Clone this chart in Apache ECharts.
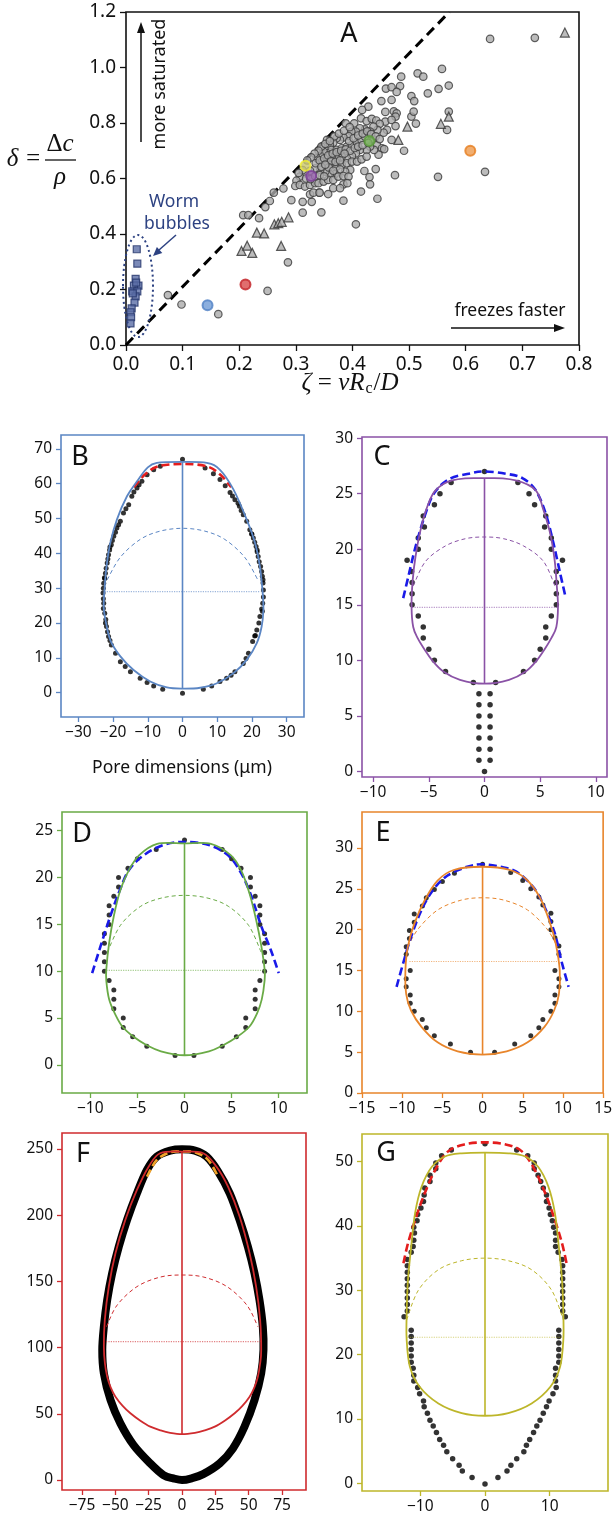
<!DOCTYPE html>
<html>
<head>
<meta charset="utf-8">
<script src="https://cdn.jsdelivr.net/npm/echarts@6/dist/echarts.min.js"></script>
<style>
  html, body { margin: 0; padding: 0; background: #fff; }
  #main { width: 615px; height: 1518px; }
</style>
</head>
<body>
<div id="main"></div>
<script>
// ---------- panel A : delta vs zeta ----------
var aXTicks = [0, 0.1, 0.2, 0.3, 0.4, 0.5, 0.6, 0.7, 0.8];
var aYTicks = [0, 0.2, 0.4, 0.6, 0.8, 1.0, 1.2];
var aDiagonal = [[0, 0], [0.571, 1.2]];
var aCircles = [
  [0.643,1.103],[0.722,1.107],[0.074,0.180],[0.098,0.146],[0.163,0.111],[0.250,0.195],[0.286,0.298],
  [0.207,0.468],[0.216,0.468],[0.235,0.457],[0.246,0.497],[0.254,0.519],[0.261,0.549],[0.278,0.564],
  [0.292,0.522],[0.312,0.477],[0.312,0.516],[0.328,0.516],[0.341,0.549],[0.345,0.478],[0.384,0.520],
  [0.406,0.435],[0.444,0.527],[0.475,0.612],[0.551,0.606],[0.634,0.624],
  [0.486,0.967],[0.515,0.979],[0.525,0.967],[0.558,0.995],[0.570,0.935],[0.552,0.923],[0.533,0.907],
  [0.459,0.924],[0.469,0.929],[0.484,0.933],[0.478,0.912],[0.504,0.897],[0.509,0.879],[0.469,0.883],
  [0.451,0.879],[0.428,0.859],[0.417,0.847],[0.458,0.840],[0.473,0.842],[0.478,0.835],[0.476,0.823],
  [0.504,0.823],[0.508,0.841],[0.512,0.798],[0.570,0.841],[0.567,0.775],[0.458,0.805],[0.469,0.811],
  [0.476,0.789],[0.388,0.799],[0.403,0.799],[0.415,0.817],[0.425,0.807],[0.434,0.815],[0.442,0.809],
  [0.448,0.797],[0.461,0.775],[0.455,0.765],[0.444,0.775],[0.437,0.787],[0.431,0.769],[0.422,0.777],
  [0.413,0.781],[0.406,0.769],[0.398,0.769],[0.393,0.753],[0.384,0.748],[0.378,0.739],[0.372,0.745],
  [0.366,0.729],[0.360,0.721],[0.355,0.739],[0.363,0.703],[0.372,0.703],[0.381,0.709],[0.390,0.715],
  [0.399,0.721],[0.408,0.729],[0.416,0.739],[0.422,0.751],[0.437,0.741],[0.443,0.721],[0.452,0.709],
  [0.456,0.706],[0.446,0.686],[0.438,0.703],[0.431,0.715],[0.425,0.703],[0.413,0.703],[0.406,0.691],
  [0.399,0.681],[0.390,0.673],[0.381,0.679],[0.372,0.673],[0.363,0.676],[0.355,0.691],[0.349,0.697],
  [0.343,0.681],[0.337,0.673],[0.346,0.661],[0.355,0.655],[0.363,0.649],[0.372,0.643],[0.381,0.649],
  [0.390,0.655],[0.399,0.661],[0.408,0.661],[0.416,0.669],[0.425,0.679],[0.396,0.631],[0.387,0.625],
  [0.378,0.633],[0.369,0.616],[0.360,0.616],[0.352,0.625],[0.343,0.631],[0.334,0.637],[0.325,0.628],
  [0.316,0.619],[0.307,0.607],[0.301,0.592],[0.299,0.573],[0.307,0.577],[0.316,0.571],[0.325,0.577],
  [0.334,0.583],[0.340,0.583],[0.349,0.589],[0.357,0.595],[0.366,0.595],[0.375,0.607],[0.384,0.609],
  [0.393,0.607],[0.384,0.579],[0.391,0.583],[0.421,0.627],[0.430,0.605],[0.431,0.579],[0.441,0.634],
  [0.415,0.553],[0.325,0.543],[0.331,0.549],[0.342,0.549],[0.357,0.544],[0.366,0.565],[0.378,0.565],
  [0.491,0.700],[0.469,0.739],[0.345,0.715],[0.352,0.725],[0.368,0.752],[0.376,0.762],[0.385,0.772],
  [0.395,0.785],[0.340,0.700],[0.333,0.690],[0.327,0.676],[0.320,0.665],[0.360,0.735],
  [0.335,0.655],[0.342,0.665],[0.350,0.672],[0.357,0.683],[0.365,0.690],[0.372,0.695],[0.380,0.700],
  [0.388,0.705],[0.396,0.700],[0.404,0.710],[0.410,0.715],[0.418,0.720],[0.428,0.728],[0.362,0.662],
  [0.370,0.660],[0.378,0.665],[0.386,0.690],[0.394,0.735],[0.402,0.745],[0.410,0.755],[0.418,0.762],
  [0.426,0.770],[0.433,0.760],[0.441,0.752],[0.448,0.742],[0.318,0.600],[0.326,0.598],[0.334,0.608],
  [0.342,0.612],[0.350,0.608],[0.358,0.640],[0.366,0.628],[0.312,0.630],[0.305,0.620],[0.345,0.642],
  [0.352,0.650]
];
var aTriangles = [
  [0.775,1.126],[0.570,0.823],[0.556,0.797],[0.497,0.787],[0.481,0.739],[0.204,0.339],[0.214,0.358],
  [0.223,0.332],[0.231,0.405],[0.244,0.402],[0.262,0.435],[0.269,0.439],[0.275,0.444],[0.287,0.460],
  [0.274,0.357]
];
var aWorm = [
  [0.019,0.345],[0.020,0.293],[0.017,0.238],[0.022,0.214],[0.014,0.214],[0.011,0.193],[0.020,0.193],
  [0.017,0.175],[0.015,0.153],[0.010,0.132],[0.008,0.118],[0.009,0.100],[0.008,0.078],[0.012,0.186],
  [0.018,0.225]
];
var aBlue = [[0.144, 0.143]];
var aRed = [[0.211, 0.218]];
var aYellow = [[0.317, 0.646]];
var aPurple = [[0.327, 0.609]];
var aGreen = [[0.430, 0.735]];
var aOrange = [[0.608, 0.700]];

// ---------- panel B ----------
var bXTicks = [-30, -20, -10, 0, 10, 20, 30];
var bYTicks = [0, 10, 20, 30, 40, 50, 60, 70];
var bDots = [
  [0,67.0],[-6.4,65],[-8.3,64],[-10.2,62.6],[-11.7,60.7],[-13.1,58.8],[-14.6,56.4],[-15.5,54],[-17,51.6],
  [-17.9,49.2],[-18.9,47.3],[-19.8,44.9],[-20.5,42.5],[-21.3,39.6],[-21.7,37.2],[-22.2,34.3],[-22.7,31.4],
  [-22.9,28.6],[-22.7,25.7],[-22.4,22.8],[-21.9,19],[-21.3,16.1],[-20.5,13.7],[-19.3,11.3],[-17.9,8.9],
  [-15,6],[-12.2,4.1],[-10.2,2.9],[-8.3,1.9],[-5.7,1.0],[0,-0.2],[6,1],[8.4,1.9],[10.8,3.2],[12.7,4.1],
  [15.1,6],[17.5,8.4],[19,11.3],[20.2,14.7],[21.4,18],[22.3,21.9],[23.1,25.7],[23.3,29.5],[23,33.4],
  [22.5,36.2],[21.8,39.1],[21.2,42],[20.4,44.4],[19.4,46.8],[18.5,49.2],[17.5,51.1],[16.4,53.5],
  [15.1,55.4],[13.7,57.5],[12.3,59.4],[10.8,61.2],[8.9,62.9],[6.5,64.5],
  [-16.3,52.8],[-18.4,48.2],[-21,41],[-22.5,33],[-22.8,27],[-22.1,21],[-20.9,15],[-16.5,7.5],
  [16.9,52.3],[19.9,45.6],[21.5,40.5],[23.2,31.5],[22.8,24],[20.8,16.3],[18.3,9.8],[14,5],
  [-19.3,46.1],[-20.2,43.7],[-20.9,41.8],[-21.5,38.4],[-22,35.7],[-22.4,32.8],[-22.8,30],[-22.8,24.2],
  [-22.2,20],[-21.6,17.5],[20,45.5],[20.8,43.2],[21.5,41],[22.1,37.6],[22.8,34.8],[23.2,32.4],
  [23.3,27.5],[23,23.4],[22,20],[21,16.4],[-14,57.6],[-12.5,59.7],[14.4,56.5],[16,54.4]
];
var bOutline = [
  [0,66.3],[-7.4,66],[-10.2,64.5],[-13.1,60.7],[-16,56.4],[-18.9,49.7],[-20.8,43],[-21.9,36.2],
  [-22.4,30.5],[-22.7,24.7],[-22.2,20.9],[-20.8,15.1],[-17.9,10.4],[-14.1,6.5],[-9.3,3.2],[-4.5,1.5],
  [0,1.15],[5.1,1.4],[9.9,2.7],[14.7,5.6],[18.5,9.4],[21.4,14.2],[22.8,19],[23.3,23.8],[23.1,28.6],
  [22.3,36.2],[20.9,43],[18.5,49.7],[14.7,58.3],[10.8,64],[7,66],[0,66.3]
];
var bFit = [[-14,59],[-11,62.5],[-7,65],[0,65.7],[7,65],[11,62.5],[14,59]];
var bArc = [[-21.7,32.4],[-17.9,38.9],[-12.2,44.0],[-6.4,46.4],[0,47.2],[6.4,46.4],[12.2,44.0],[17.9,38.9],[21.7,32.4]];
var bDiam = [[-22.5,29],[22.5,29]];
var bStem = [[0,1.2],[0,66.3]];

// ---------- panel C ----------
var cXTicks = [-10, -5, 0, 5, 10];
var cYTicks = [0, 5, 10, 15, 20, 25, 30];
var cDots = [
  [0,27],[-3,26],[-4,25],[-4.5,24],[-5.5,23],[-5.4,22],[-5.95,21],[-5.95,20],[-6.95,19],[-6.55,18],
  [-6.5,17],[-6.5,16],[-6.5,15],[-5.95,14],[-5.5,13],[-5.5,12],[-5,11],[-4.5,10],[-3.5,9],[-1,8],[1,8],
  [3,26],[4,25],[4.5,24],[5.5,23],[5.4,22],[6,21],[6,20],[7,19],[6.45,18],[6.45,17],[6.45,16],[6.45,15],
  [6,14],[5.5,13],[5.5,12],[5,11],[4.5,10],[3.5,9],
  [-0.5,7],[0.5,7],[-0.5,6],[0.5,6],[-0.5,5],[0.5,5],[-0.5,4],[0.5,4],[-0.5,3],[0.5,3],[-0.5,2],[0.5,2],
  [-0.5,1],[0.5,1],[0,0]
];
var cOutline = [
  [0,26.42],[-2.9,26.2],[-4.4,25.3],[-5.15,23.8],[-5.75,21.7],[-6.2,19.3],[-6.45,17.2],[-6.55,14.8],
  [-6.4,13],[-6.0,12],[-5.4,11],[-4.7,10],[-3.7,9],[-2.2,8.25],[0,7.9],[2.2,8.25],[3.7,9],[4.7,10],
  [5.4,11],[6.0,12],[6.45,13],[6.6,14.8],[6.5,16.6],[6.3,19],[5.9,21.4],[5.3,23.5],[4.6,25.3],[2.8,26.2],[0,26.42]
];
var cFit = [
  [-7.3,15.6],[-6.8,17.7],[-6.2,20.2],[-5.4,22.9],[-4.55,25],[-3.2,26.3],[-1.4,26.8],[0,27.0],[1.9,26.8],
  [3.4,26.4],[4.6,25.3],[5.5,23.2],[6.2,20.5],[6.8,17.8],[7.3,15.6]
];
var cArc = [[-6.4,16.7],[-5.3,18.9],[-3.5,20.3],[-1.7,20.95],[0,21.1],[1.7,20.95],[3.5,20.3],[5.3,18.9],[6.4,16.5]];
var cDiam = [[-6.5,14.76],[6.5,14.76]];
var cStem = [[0,7.9],[0,26.42]];

// ---------- panel D ----------
var dXTicks = [-10, -5, 0, 5, 10];
var dYTicks = [0, 5, 10, 15, 20, 25];
var dDots = [
  [0,24],[-3,23],[-5,22],[-6,21],[-7,20],[-7,19],[-7.5,18],[-8,17],[-8,16],[-8,15],[-8.5,14],[-8.5,13],
  [-8.5,12],[-8.5,11],[-8.5,10],[-8,9],[-7.5,8],[-7.5,7],[-7.5,6],[-6.5,5],[-6.5,4],[-5.5,3],[-4,2],
  [-1,1],[1,1],[4,2],[5.5,3],[6.5,4],[6.5,5],[7.5,6],[7.5,7],[7.5,8],[8,9],[8.5,10],[8.5,11],[8.5,12],
  [8.5,13],[8.5,14],[8,15],[8,16],[8,17],[7.5,18],[7,19],[7,20],[6,21],[5,22],[4,23]
];
var dOutline = [
  [0,23.65],[-2.9,23.6],[-4.8,22.4],[-5.9,20.8],[-6.8,18.7],[-7.5,15.9],[-8.0,13],[-8.3,10.2],[-8.3,9],
  [-8.0,7],[-7.4,5.5],[-6.6,4.1],[-5.4,3.0],[-4,2.1],[-2.5,1.45],[0,1.03],[2.6,1.45],[4.1,2.1],[5.6,3],
  [6.9,4.1],[7.7,5.5],[8.2,7],[8.5,9],[8.5,10.2],[8.15,12.7],[7.6,15.5],[6.9,18.3],[6,20.8],[4.9,22.4],
  [2.8,23.6],[0,23.65]
];
var dFit = [
  [-9.8,9.8],[-8.9,12.7],[-8,15.5],[-7,18.3],[-5.9,20.8],[-4.3,22.4],[-2.2,23.5],[0,23.8],[2.5,23.5],
  [4.6,22.4],[6,20.5],[7.1,18],[8.15,14.8],[9.15,12.3],[10,9.8]
];
var dArc = [[-8.2,12],[-6.8,14.9],[-4.7,16.9],[-2.5,17.8],[0,18.1],[2.5,17.8],[4.7,16.9],[6.8,14.9],[8.15,12]];
var dDiam = [[-8.3,10.1],[8.4,10.1]];
var dStem = [[0,1.05],[0,23.65]];

// ---------- panel E ----------
var eXTicks = [-15, -10, -5, 0, 5, 10, 15];
var eYTicks = [0, 5, 10, 15, 20, 25, 30];
var eDots = [
  [0,28],[-3.5,26.9],[-5,25.9],[-6,24.9],[-7,23.9],[-7.5,22.9],[-8.5,21.9],[-8.5,20.9],[-9.1,19.9],
  [-9.1,18.9],[-9.5,17.9],[-9.5,17],[-9,15],[-9.5,14],[-9.5,13],[-9,12],[-9,11],[-8.5,10],[-7.5,9],
  [-7,8],[-6,7],[-4,6],[-1.5,5],[1.5,5],[4,6],[6,7],[7,8],[7.5,9],[8.5,10],[9,11],[9,12],[9.5,13],
  [9.5,14],[9,15],[9.5,17],[9.5,18],[9,19],[8.5,20],[8.5,21],[8.5,22],[7.5,23],[7,24],[6,25],[5,26],[3.5,27]
];
var eOutline = [
  [0,27.7],[-3.6,27.3],[-5.6,26],[-7.2,23.6],[-8.5,20.7],[-9.3,17.9],[-9.6,15],[-9.5,12.1],[-8.9,10.1],
  [-7.6,8.1],[-5.6,6.2],[-3.1,5.1],[0,4.7],[3,5.1],[5.6,6.2],[7.7,8.1],[8.9,10.1],[9.5,12.1],[9.6,15],
  [9.1,18.3],[8.3,21.1],[7.1,24],[5.4,26.2],[3.4,27.3],[0,27.7]
];
var eFit = [
  [-10.7,13],[-9.9,15.8],[-8.9,19.1],[-7.6,22.4],[-6.2,24.8],[-4.4,26.6],[-1.9,27.7],[0,28],[2.2,27.7],
  [4.2,27.1],[6.3,25.2],[7.7,22.8],[9,19.5],[9.8,16.2],[10.7,13]
];
var eArc = [[-9.3,17.9],[-8,20.1],[-5.6,22.4],[-2.7,23.6],[0,23.9],[2.7,23.6],[5.6,22.4],[8,20.1],[9.3,17.9]];
var eDiam = [[-9.1,16.1],[9.4,16.1]];
var eStem = [[0,4.7],[0,27.7]];

// ---------- panel F ----------
var fXTicks = [-75, -50, -25, 0, 25, 50, 75];
var fYTicks = [0, 50, 100, 150, 200, 250];
var fBand = [
  [0,249.7],[-8.9,248.7],[-18.9,244.2],[-26.3,234.1],[-33.8,216.5],[-41.2,196.4],[-47.4,176.2],
  [-52.4,156.1],[-56.1,136],[-58.6,115.8],[-59.8,98.2],[-58.6,80.6],[-53.6,60.4],[-46.2,42.8],
  [-36.3,26.4],[-23.8,12.6],[-13.9,3.8],[-6.5,1.3],[0,0],[7.2,1.3],[15.9,4.5],[28.3,12.6],[38.2,23.9],
  [46.9,40.3],[54.4,60.4],[59.4,80.6],[61.1,98.2],[60.6,115.8],[58.1,136],[54.4,156.1],[49.4,176.2],
  [43.2,196.4],[35.8,216.5],[27.1,232.9],[18.4,244.2],[9.7,248.7],[0,249.7]
];
var fDots = [[-13,2.5],[-6.5,1.3],[0,0],[6.5,1.3],[13,2.5],[-8,249],[8,249]];
var fOutline = [
  [0,248],[-16.4,246.7],[-25,236.6],[-33.8,219],[-42.5,196.4],[-49.9,171.2],[-54.9,146],[-57.9,120.8],
  [-58.6,100.7],[-57.8,88],[-56.1,78],[-53.5,70],[-49.9,62.9],[-44.5,56],[-38.7,50.4],[-31.5,45],
  [-23.8,40.3],[-16,37.5],[-8.9,35.7],[0,34.7],[9.7,35.7],[17,37.5],[24.6,40.3],[32.3,45],[39.5,50.4],
  [45.3,56],[50.7,62.9],[54.3,70],[56.9,78],[58.6,88],[59.4,98.2],[58.6,120.8],[55.6,146],[50.7,171.2],
  [43.2,198.9],[34.5,221.5],[25.8,236.6],[15.9,246.7],[0,248]
];
var fFit = [[-26.3,229],[-18.9,241.7],[-8.9,247.5],[0,248],[9.7,247.5],[19.6,241.7],[27.1,229]];
var fArc = [[-56.6,115.8],[-48.7,132],[-33.8,146],[-16.4,153.2],[0,154.8],[16.4,153.2],[33.8,146],[48.7,132],[56.9,115.8]];
var fDiam = [[-57,104.5],[59,104.5]];
var fStem = [[0,34.7],[0,248]];

// ---------- panel G ----------
var gXTicks = [-10, 0, 10];
var gYTicks = [0, 10, 20, 30, 40, 50];
var gDots = [
  [0,52.8],[-5.2,51.8],[-6.7,50.9],[-7.6,49.8],[-7.6,48.9],[-8.5,47.9],[-8.5,46.9],[-9.3,45.9],[-9.4,44.8],
  [-9.5,43.8],[-9.9,42.8],[-10.4,41.8],[-10.5,40.8],[-11,39.8],[-10.9,38.9],[-11,37.8],[-11.1,36.8],
  [-11.4,35.9],[-12,34.8],[-12,33.8],[-12,32.8],[-12,31.8],[-12,30.8],[-12,29.8],[-12,28.8],[-12,27.8],
  [-12,26.8],[-12.5,25.9],[-11.4,23.8],[-11.4,22.8],[-11.4,21.8],[-11.4,20.8],[-11.4,19.8],[-11.4,18.8],
  [-11.1,17.9],[-11,16.8],[-11,15.9],[-10.4,14.9],[-10.1,13.9],[-9.5,12.8],[-9.4,11.9],[-8.9,10.9],
  [-8.5,9.8],[-8,8.9],[-7.5,7.9],[-7,6.8],[-6.4,5.9],[-5.9,4.9],[-5,3.8],[-4,2.8],[-3.5,1.9],[-2,0.9],
  [0,-0.1],[2,0.9],[3.4,1.9],[4,2.8],[4.9,3.8],[6,4.9],[6.4,5.9],[6.9,6.8],[7.5,7.9],[8,8.9],[8.5,9.8],
  [9,10.9],[9.5,11.9],[9.9,12.8],[10.5,13.9],[11,14.9],[10.9,15.9],[10.9,16.8],[10.9,17.9],[11.4,18.8],
  [11.4,19.8],[11.4,20.8],[11.4,21.8],[11.4,22.8],[11.4,23.8],[12.4,25.9],[12,26.8],[12,27.8],[12,28.8],
  [12,29.8],[12,30.8],[12,31.8],[12,32.8],[12,33.8],[11.9,34.8],[11.3,35.9],[10.9,36.8],[10.9,37.8],
  [10.9,38.9],[10.6,39.8],[10.4,40.8],[10.1,41.8],[9.9,42.8],[9.5,43.8],[9.5,44.8],[9,45.9],[8.6,46.9],
  [8.2,47.9],[7.6,48.9],[7.6,49.8],[6.6,50.9],[4.9,51.8]
];
var gOutline = [
  [0,51.4],[-3.6,51.3],[-6.2,50.8],[-8.2,49.2],[-9.8,46.1],[-10.8,42],[-11.4,36.8],[-11.9,31.6],[-12.1,26.4],
  [-12.1,22.3],[-11.6,18.1],[-10.1,15],[-7.2,12.4],[-3.6,10.9],[0,10.5],[3.6,10.9],[7.2,12.4],[10.1,15],
  [11.6,18.1],[12.1,22.3],[12.1,26.4],[11.9,31.6],[11.4,36.8],[10.8,42],[9.8,46.1],[8.2,49.2],[6.2,50.8],
  [3.6,51.3],[0,51.4]
];
var gFit = [
  [-12.6,34.2],[-11.9,37.3],[-10.8,40.9],[-9.5,44.6],[-7.7,48.7],[-5.7,51.6],[-3.1,52.7],[0,53],[3.1,52.7],
  [5.7,51.6],[7.7,48.7],[9.5,44.6],[10.8,40.9],[11.9,37.3],[12.6,34.2]
];
var gArc = [[-12.1,25.4],[-10.3,30],[-7.2,33.2],[-3.6,34.6],[0,35],[3.6,34.6],[7.2,33.2],[10.3,30],[12.1,25.4]];
var gDiam = [[-12,22.7],[12,22.7]];
var gStem = [[0,10.5],[0,51.4]];

// ---------- layout ----------
var FONT = 'Noto Sans';
var panels = [
  {grid: {left: 126, top: 12, width: 453, height: 333}, color: '#111', x: [0, 0.8], y: [0, 1.2], xt: aXTicks, yt: aYTicks, fs: 19, dec: 1},
  {grid: {left: 61, top: 435, width: 243, height: 282}, color: '#5b86c4', x: [-35, 35], y: [-7, 74], xt: bXTicks, yt: bYTicks, fs: 15.5},
  {grid: {left: 362, top: 437, width: 245, height: 340}, color: '#8a52a6', x: [-11, 11], y: [-0.5, 30.1], xt: cXTicks, yt: cYTicks, fs: 15.5},
  {grid: {left: 62, top: 812, width: 245, height: 281}, color: '#6aab46', x: [-13, 13], y: [-3, 27], xt: dXTicks, yt: dYTicks, fs: 15.5},
  {grid: {left: 362, top: 812, width: 245, height: 281}, color: '#e8852b', x: [-15, 15], y: [0, 34.4], xt: eXTicks, yt: eYTicks, fs: 15.5},
  {grid: {left: 62, top: 1133, width: 244, height: 357}, color: '#cf2b2e', x: [-90, 93], y: [-7.5, 262], xt: fXTicks, yt: fYTicks, fs: 15.5},
  {grid: {left: 362, top: 1134, width: 246, height: 357}, color: '#bdb62a', x: [-19, 19], y: [-1.2, 54.3], xt: gXTicks, yt: gYTicks, fs: 15.5}
];

function fmt(dec) {
  return function (v) {
    var s = dec ? Number(v).toFixed(dec) : String(Math.round(v));
    return s.replace('-', '\u2212');
  };
}

var grids = [], xAxes = [], yAxes = [];
panels.forEach(function (p, i) {
  grids.push(Object.assign({show: true, borderColor: p.color, borderWidth: 1.6, containLabel: false}, p.grid));
  var common = {
    gridIndex: i, type: 'value', splitLine: {show: false},
    axisLine: {show: false, onZero: false},
    axisTick: {show: true, length: i === 0 ? 6 : 5, lineStyle: {color: p.color, width: 1.3}},
    axisLabel: {color: '#111', fontSize: p.fs, fontFamily: FONT, formatter: fmt(p.dec)}
  };
  xAxes.push(echarts.util.merge({
    min: p.x[0], max: p.x[1],
    axisTick: {customValues: p.xt},
    axisLabel: {customValues: p.xt, margin: i === 0 ? 10 : 8}
  }, common, true));
  yAxes.push(echarts.util.merge({
    min: p.y[0], max: p.y[1],
    axisTick: {customValues: p.yt},
    axisLabel: {customValues: p.yt, margin: i === 0 ? 10 : 9}
  }, common, true));
});

// smooth curve through the read points, drawn in pixel space (Catmull-Rom as bezier)
function smoothPath(px, closed) {
  var pts = px.slice();
  if (closed) pts.pop();
  var n = pts.length;
  function get(i) {
    if (closed) return pts[(i + n) % n];
    return pts[Math.max(0, Math.min(n - 1, i))];
  }
  var d = 'M' + pts[0][0] + ' ' + pts[0][1];
  var last = closed ? n : n - 1;
  for (var i = 0; i < last; i++) {
    var p0 = get(i - 1), p1 = get(i), p2 = get(i + 1), p3 = get(i + 2);
    var c1x = p1[0] + (p2[0] - p0[0]) / 6, c1y = p1[1] + (p2[1] - p0[1]) / 6;
    var c2x = p2[0] - (p3[0] - p1[0]) / 6, c2y = p2[1] - (p3[1] - p1[1]) / 6;
    d += 'C' + c1x + ' ' + c1y + ' ' + c2x + ' ' + c2y + ' ' + p2[0] + ' ' + p2[1];
  }
  if (closed) d += 'Z';
  return d;
}
function curve(gi, data, color, width, dash, z, opacity) {
  var first = data[0], lastP = data[data.length - 1];
  var closed = first[0] === lastP[0] && first[1] === lastP[1];
  return {
    type: 'custom', xAxisIndex: gi, yAxisIndex: gi, data: data, z: z || 3, silent: true,
    renderItem: function (params, api) {
      if (params.dataIndex !== 0) return null;
      var px = data.map(function (p) { return api.coord(p); });
      return {
        type: 'path',
        shape: {pathData: smoothPath(px, closed)},
        style: {fill: 'none', stroke: color, lineWidth: width, lineDash: dash || null,
                opacity: opacity == null ? 1 : opacity, lineJoin: 'round'}
      };
    }
  };
}
function line(gi, data, color, width, type, z, opacity) {
  return {
    type: 'line', xAxisIndex: gi, yAxisIndex: gi, data: data, symbol: 'none', z: z || 3, silent: true,
    lineStyle: {color: color, width: width, type: type || 'solid', opacity: opacity == null ? 1 : opacity}
  };
}
function dots(gi, data, size, z) {
  return {
    type: 'scatter', xAxisIndex: gi, yAxisIndex: gi, data: data, symbolSize: size, z: z || 4,
    itemStyle: {color: '#000'}, silent: true
  };
}
function hl(data, fill, border) {
  return {
    type: 'scatter', xAxisIndex: 0, yAxisIndex: 0, data: data, symbolSize: 10, z: 6,
    itemStyle: {color: fill, borderColor: border, borderWidth: 2}, silent: true
  };
}

var series = [
  line(0, aDiagonal, '#000', 3, [10, 6], 2),
  {type: 'scatter', xAxisIndex: 0, yAxisIndex: 0, data: aCircles, symbolSize: 7.5, z: 4,
   itemStyle: {color: '#ababab', borderColor: '#3a3a3a', borderWidth: 1.2}},
  {type: 'scatter', xAxisIndex: 0, yAxisIndex: 0, data: aTriangles, symbol: 'triangle', symbolSize: 9, z: 4,
   itemStyle: {color: '#ababab', borderColor: '#333', borderWidth: 1.2}},
  {type: 'scatter', xAxisIndex: 0, yAxisIndex: 0, data: aWorm, symbol: 'rect', symbolSize: 7, z: 4,
   itemStyle: {color: '#5b6ea6', borderColor: '#25366b', borderWidth: 1.2}},
  hl(aBlue, '#6f9bd6', '#4f80c4'),
  hl(aRed, '#d84a4a', '#c21f24'),
  hl(aYellow, '#c9c66a', '#f3ef2e'),
  hl(aPurple, '#9b66b1', '#7d3f98'),
  hl(aGreen, '#78b35a', '#5a9e3a'),
  hl(aOrange, '#ee9a4c', '#e67d1e')
];

var sets = [
  null,
  {dots: bDots, ds: 5, outline: bOutline, fit: bFit, fitColor: '#e41d1d', arc: bArc, diam: bDiam, stem: bStem},
  {dots: cDots, ds: 5.5, outline: cOutline, fit: cFit, fitColor: '#1a1ae8', arc: cArc, diam: cDiam, stem: cStem},
  {dots: dDots, ds: 5, outline: dOutline, fit: dFit, fitColor: '#1a1ae8', arc: dArc, diam: dDiam, stem: dStem},
  {dots: eDots, ds: 5, outline: eOutline, fit: eFit, fitColor: '#1a1ae8', arc: eArc, diam: eDiam, stem: eStem},
  {dots: fDots, ds: 5, outline: fOutline, fit: fFit, fitColor: '#f0a32a', arc: fArc, diam: fDiam, stem: fStem},
  {dots: gDots, ds: 5.5, outline: gOutline, fit: gFit, fitColor: '#e41d1d', arc: gArc, diam: gDiam, stem: gStem}
];
sets.forEach(function (s, i) {
  if (!s) return;
  var c = panels[i].color;
  if (i === 5) series.push(curve(5, fBand, '#000', 8, null, 2));
  series.push(dots(i, s.dots, s.ds, 3));
  series.push(line(i, s.diam, c, 1.2, 'dotted', 4, 0.6));
  series.push(curve(i, s.arc, c, 1, [4, 3], 4));
  series.push(line(i, s.stem, c, 1.6, 'solid', 4));
  series.push(curve(i, s.fit, s.fitColor, 2.6, [8, 4], 5));
  series.push(curve(i, s.outline, c, 1.8, null, 6));
});

// ---------- annotations ----------
var navy = '#2d4282';
function txt(x, y, text, size, extra) {
  return {type: 'text', x: x, y: y, z: 20, style: Object.assign({
    text: text, fontSize: size, fontFamily: FONT, fill: '#111', align: 'center', verticalAlign: 'middle'
  }, extra || {})};
}
var serif = {fontFamily: 'Liberation Serif', fontStyle: 'italic'};
var graphic = [
  txt(349, 34, 'A', 27),
  txt(80, 457, 'B', 27), txt(382, 457, 'C', 27), txt(82, 834, 'D', 27),
  txt(383, 833, 'E', 27), txt(83, 1154, 'F', 27), txt(386, 1153, 'G', 27),
  txt(182, 768, 'Pore dimensions (\u03bcm)', 17.5),
  {type: 'text', x: 160, y: 84, rotation: Math.PI / 2, z: 20,
   style: {text: 'more saturated', fontSize: 18, fontFamily: FONT, fill: '#111', align: 'center', verticalAlign: 'middle'}},
  {type: 'line', z: 20, shape: {x1: 141, y1: 142, x2: 141, y2: 30}, style: {stroke: '#111', lineWidth: 1.5}},
  {type: 'polygon', z: 20, shape: {points: [[141, 22], [137, 33], [145, 33]]}, style: {fill: '#111'}},
  txt(510, 311, 'freezes faster', 17.5),
  {type: 'line', z: 20, shape: {x1: 451, y1: 328, x2: 556, y2: 328}, style: {stroke: '#111', lineWidth: 1.5}},
  {type: 'polygon', z: 20, shape: {points: [[565, 328], [554, 324], [554, 332]]}, style: {fill: '#111'}},
  txt(174, 202, 'Worm', 17.5, {fill: navy}),
  txt(177, 224, 'bubbles', 17.5, {fill: navy}),
  {type: 'ellipse', z: 20, shape: {cx: 138, cy: 286, rx: 15, ry: 51},
   style: {fill: 'none', stroke: navy, lineWidth: 2, lineDash: [2, 3]}},
  {type: 'line', z: 20, shape: {x1: 176, y1: 235, x2: 159, y2: 250}, style: {stroke: navy, lineWidth: 1.5}},
  {type: 'polygon', z: 20, shape: {points: [[153, 256], [162.3, 252.9], [156.9, 246.9]]}, style: {fill: navy}},
  // axis titles of panel A
  txt(24, 159, '\u03b4 =', 25, serif),
  {type: 'text', x: 60, y: 144, z: 20, style: {
    text: '{n|\u0394}{i|c}', align: 'center', verticalAlign: 'middle',
    rich: {
      n: {fontFamily: 'Liberation Serif', fontSize: 25, fill: '#111'},
      i: {fontFamily: 'Liberation Serif', fontStyle: 'italic', fontSize: 25, fill: '#111'}
    }}},
  {type: 'line', z: 20, shape: {x1: 45, y1: 160, x2: 76, y2: 160}, style: {stroke: '#111', lineWidth: 1.3}},
  txt(60, 177, '\u03c1', 25, serif),
  {type: 'text', x: 350, y: 383, z: 20, style: {
    text: '{i|\u03b6}{n| = }{i|vR}{s|c}{n|/}{i|D}', align: 'center', verticalAlign: 'middle',
    rich: {
      i: {fontFamily: 'Liberation Serif', fontStyle: 'italic', fontSize: 25, fill: '#111'},
      n: {fontFamily: 'Liberation Serif', fontSize: 25, fill: '#111'},
      s: {fontFamily: 'Liberation Serif', fontSize: 16, fill: '#111', padding: [12, 1, 0, 1]}
    }}}
];

var chart = echarts.init(document.getElementById('main'), null, {renderer: 'canvas'});
chart.setOption({
  animation: false,
  backgroundColor: '#fff',
  grid: grids,
  xAxis: xAxes,
  yAxis: yAxes,
  series: series,
  graphic: graphic
});
</script>
</body>
</html>
